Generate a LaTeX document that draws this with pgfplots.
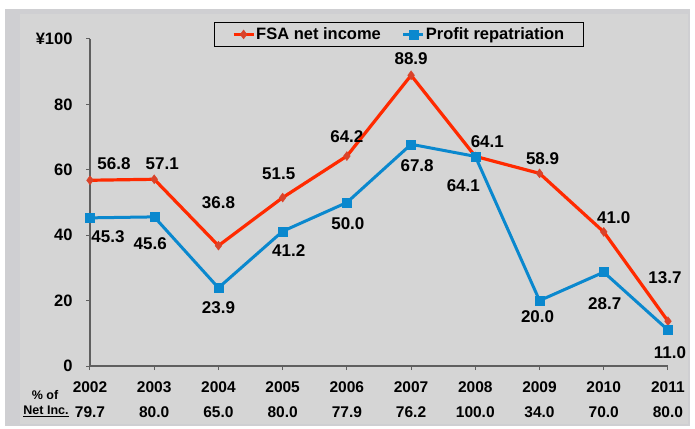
\documentclass[border=0pt]{standalone}
\usepackage{pgfplots}
\pgfplotsset{compat=1.18}
\usepackage{pgfplotstable}
\usepackage{fontspec}
\setmainfont{Liberation Sans}

\definecolor{fsared}{HTML}{FF2A00}
\definecolor{fsamark}{HTML}{D9432A}
\definecolor{repblue}{HTML}{0A88CE}
\definecolor{bgouter}{HTML}{CFCFD2}
\definecolor{bginner}{HTML}{D5D5D5}
\definecolor{axisgrey}{HTML}{5F5F5F}

% FSA net income, with label offsets (pt)
\pgfplotstableread{
year val dx dy
2002 56.8 24 17
2003 57.1 8 16
2004 36.8 0 43
2005 51.5 -4 24
2006 64.2 0 19
2007 88.9 0 17
2008 64.1 12 15
2009 58.9 3 15
2010 41.0 10 14
2011 13.7 -3 44
}\fsadata

% Profit repatriation
\pgfplotstableread{
year val dx dy
2002 45.3 18 -19
2003 45.6 -4 -27
2004 23.9 0 -20
2005 41.2 6 -19
2006 50.0 1 -21
2007 67.8 6 -21
2008 64.1 -12 -29
2009 20.0 -2 -16
2010 28.7 1 -31
2011 11.0 2 -23
}\repdata

\begin{document}
\begin{tikzpicture}[x=1pt,y=1pt]
\fill[white] (-90,-62) rectangle (605,366);
\fill[bgouter] (-85,-60) rectangle (600,357);
\fill[bginner] (-70,-58) rectangle (598,352);
\begin{axis}[
  scale only axis, width=578pt, height=327pt,
  at={(0,0)}, anchor=south west,
  xmin=2002, xmax=2011, ymin=0, ymax=100,
  clip=false,
  axis lines=left,
  axis line style={-, draw=axisgrey, line width=1.3pt},
  tick align=outside, major tick length=4pt,
  tick style={draw=axisgrey, line width=1pt},
  xtick={2002,...,2011},
  xticklabels={{2002\\[7pt]79.7},{2003\\[7pt]80.0},{2004\\[7pt]65.0},{2005\\[7pt]80.0},{2006\\[7pt]77.9},
    {2007\\[7pt]76.2},{2008\\[7pt]100.0},{2009\\[7pt]34.0},{2010\\[7pt]70.0},{2011\\[7pt]80.0}},
  xticklabel style={align=center, yshift=-8pt, font=\fontsize{15.5}{18}\selectfont\bfseries},
  ytick={0,20,...,100},
  yticklabels={0,20,40,60,80,¥100},
  yticklabel style={xshift=-10pt, font=\fontsize{16.5}{19}\selectfont\bfseries},
  legend columns=2,
  legend style={at={(0.534,1.014)}, anchor=center, draw=black, line width=0.8pt,
    fill=bginner, font=\fontsize{16.5}{19}\selectfont\bfseries,
    inner xsep=18pt, inner ysep=3pt,
    nodes={inner xsep=1pt},
    /tikz/every even column/.append style={column sep=20pt}},
  legend image code/.code={\draw[mark repeat=2,mark phase=2,#1]
    plot coordinates {(0pt,0pt) (10pt,0pt) (20pt,0pt)};},
  nodes near coords,
  point meta=explicit symbolic,
  visualization depends on={\thisrow{dx} \as \dx},
  visualization depends on={\thisrow{dy} \as \dy},
  nodes near coords style={anchor=center, xshift=\dx pt, yshift=\dy pt,
    font=\fontsize{17}{19}\selectfont\bfseries, text=black},
]
\addplot[fsared, line width=3.2pt, mark=diamond*, mark size=4.5pt,
  mark options={fill=fsamark, draw=fsamark, line width=0.4pt}]
  table[x=year, y=val, meta=val] {\fsadata};
\addlegendentry{FSA net income}
\addplot[repblue, line width=3pt, mark=square*, mark size=4.5pt,
  mark options={fill=repblue, draw=repblue, line width=0.4pt}]
  table[x=year, y=val, meta=val] {\repdata};
\addlegendentry{Profit repatriation}
\end{axis}
\node[font=\fontsize{12.5}{14}\selectfont\bfseries] at (-45,-29) {\% of};
\node[font=\fontsize{12.5}{14}\selectfont\bfseries] at (-44,-45) {\underline{Net Inc.}};
\pgfresetboundingbox
\path (-90,-62) rectangle (605,366);
\end{tikzpicture}
\end{document}
